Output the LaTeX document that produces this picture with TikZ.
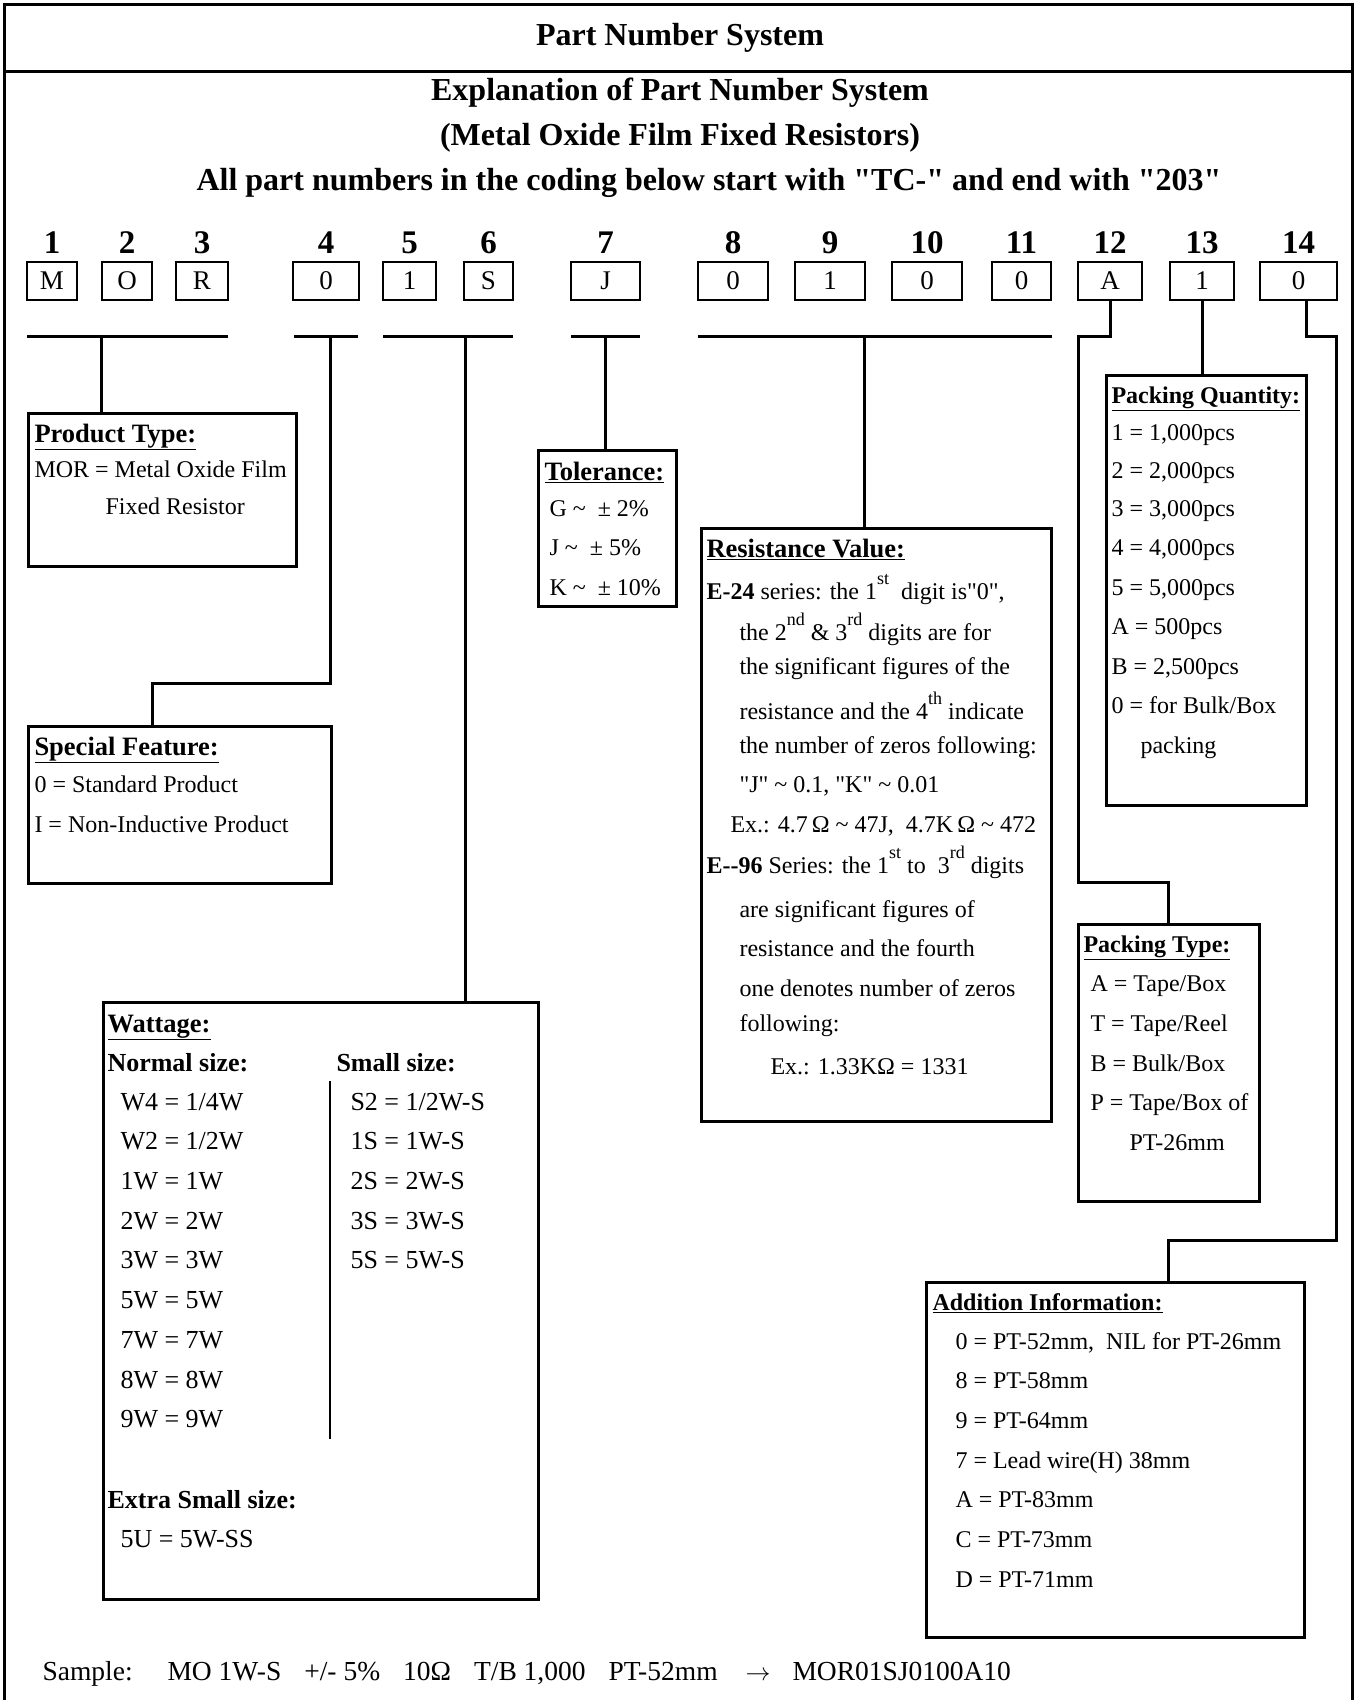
\documentclass[tikz,border=0pt]{standalone}
\usepackage{fontspec}
\setmainfont{Liberation Serif}[Ligatures=TeXOff]
\newcommand\hdrline[1]{\underline{\textbf{#1}}}
\newcommand\supr[1]{\raisebox{0.6em}{\fontsize{18}{20}\selectfont #1}}
\begin{document}
\begin{tikzpicture}[x=1pt,y=-1pt, line width=3pt,
  bx/.style={draw, line width=3pt, inner sep=0, anchor=north west},
  cb/.style={draw, line width=2.5pt, minimum height=38pt, inner sep=0, font=\fontsize{27}{30}\selectfont},
  dg/.style={font=\fontsize{33}{36}\selectfont\bfseries, inner sep=0},
  tl/.style={font=\fontsize{32}{36}\selectfont\bfseries, inner sep=0},
  hd/.style={font=\fontsize{26.5}{30}\selectfont, anchor=base west, inner sep=0, yshift=-9pt},
  hs/.style={font=\fontsize{24}{28}\selectfont, anchor=base west, inner sep=0, yshift=-8pt},
  tx/.style={font=\fontsize{24}{28}\selectfont, anchor=base west, inner sep=0, yshift=-8pt},
  wt/.style={font=\fontsize{26}{30}\selectfont, anchor=base west, inner sep=0, yshift=-8.5pt},
  wb/.style={font=\fontsize{26}{30}\selectfont\bfseries, anchor=base west, inner sep=0, yshift=-8.5pt},
  sm/.style={font=\fontsize{27.5}{30}\selectfont, anchor=base west, inner sep=0, yshift=-9pt},
]
\useasboundingbox (0,0) rectangle (1359,1700);

% frame
\coordinate (fBL) at (4,1700);
\coordinate (fTL) at (4,4);
\coordinate (fTR) at (1352,4);
\coordinate (fBR) at (1352,1700);
\draw (fBL) -- (fTL) -- (fTR) -- (fBR);
\coordinate (hL) at (4,71);
\coordinate (hR) at (1352,71);
\draw (hL) -- (hR);

% titles
\node[tl] (t1) at (680,38) {Part Number System};
\node[tl] (t2) at (680,93) {Explanation of Part Number System};
\node[tl] (t3) at (680,138) {(Metal Oxide Film Fixed Resistors)};
\node[tl] (t4) at (709,183) {All part numbers in the coding below start with "TC-" and end with "203"};

% character boxes and digit numbers
\foreach \n/\x/\w/\c in {1/52/50/M, 2/127/50/O, 3/202/52/R, 4/326/66/0, 5/409.5/53/1, 6/488.5/49/S, 7/605.5/69/J, 8/733/70/0, 9/830/70/1, 10/927/70/0, 11/1021.5/59/0, 12/1110/64/A, 13/1202/64/1, 14/1298.5/77/0}{
  \node[cb, minimum width=\w] (c\n) at (\x,281) {\c};
  \node[dg] (d\n) at (\x,243) {\n};
}

% boxes
\node[bx, minimum width=268, minimum height=153] (pt) at (27,412) {};
\node[bx, minimum width=303, minimum height=157.5] (sf) at (27,724.5) {};
\node[bx, minimum width=435, minimum height=597] (wa) at (102,1001) {};
\node[bx, minimum width=138, minimum height=156] (to) at (537,449) {};
\node[bx, minimum width=350, minimum height=593] (rv) at (700,527) {};
\node[bx, minimum width=200, minimum height=430] (pq) at (1105,374) {};
\node[bx, minimum width=181, minimum height=277] (ptyp) at (1077,923) {};
\node[bx, minimum width=378, minimum height=355] (ad) at (925,1281) {};

% brackets
\coordinate (b13l) at (27,336);  \coordinate (b13r) at (228,336);
\coordinate (b4l) at (294,336);  \coordinate (b4r) at (358,336);
\coordinate (b56l) at (383,336); \coordinate (b56r) at (513,336);
\coordinate (b7l) at (571,336);  \coordinate (b7r) at (640,336);
\coordinate (b811l) at (698,336); \coordinate (b811r) at (1052,336);
\draw (b13l) -- (b13r);
\draw (b4l) -- (b4r);
\draw (b56l) -- (b56r);
\draw (b7l) -- (b7r);
\draw (b811l) -- (b811r);

% stems and connectors
\coordinate (s13) at (101,336);
\draw (s13) -- (s13 |- pt.north);
\coordinate (s4) at (330,336);
\coordinate (k4) at (152,683);
\draw (s4) |- (k4) -- (k4 |- sf.north);
\coordinate (s56) at (465,336);
\draw (s56) -- (s56 |- wa.north);
\coordinate (s7) at (605,336);
\draw (s7) -- (s7 |- to.north);
\coordinate (s811) at (864,336);
\draw (s811) -- (s811 |- rv.north);
\coordinate (k12a) at (1078,336);
\coordinate (k12b) at (1168,882);
\draw (c12.south) |- (k12a) |- (k12b) -- (k12b |- ptyp.north);
\draw (c13.south) -- (c13.south |- pq.north);
\coordinate (s14) at (1306,300);
\coordinate (k14a) at (1336,336);
\coordinate (k14b) at (1168,1240);
\draw (s14) |- (k14a) |- (k14b) -- (k14b |- ad.north);

% Product Type
\node[hd] (pth) at (33,433) {\hdrline{Product Type:}};
\node[tx] (pt1) at (33,469) {MOR = Metal Oxide Film};
\node[tx] (pt2) at (104,506) {Fixed Resistor};

% Special Feature
\node[hd] (sfh) at (33,746) {\hdrline{Special Feature:}};
\node[tx] (sf1) at (33,784) {0 = Standard Product};
\node[tx] (sf2) at (33,824) {I = Non-Inductive Product};

% Tolerance
\node[hd] (toh) at (543,471) {\hdrline{Tolerance:}};
\node[tx] (to1) at (548,508) {G \textasciitilde\ \ ± 2\%};
\node[tx] (to2) at (548,547) {J \textasciitilde\ \ ± 5\%};
\node[tx] (to3) at (548,587) {K \textasciitilde\ \ ± 10\%};

% Resistance Value
\node[hd] (rvh) at (705,548) {\hdrline{Resistance Value:}};
\node[tx] (rv1) at (705,591) {\textbf{E-24} series: the 1\supr{st}\ \ digit is"0",};
\node[tx] (rv2) at (738,632) {the 2\supr{nd}\ \& 3\supr{rd}\ digits are for};
\node[tx] (rv3) at (738,666) {the significant figures of the};
\node[tx] (rv4) at (738,711) {resistance and the 4\supr{th}\ indicate};
\node[tx] (rv5) at (738,745) {the number of zeros following:};
\node[tx] (rv6) at (738,784) {"J" \textasciitilde\ 0.1, "K" \textasciitilde\ 0.01};
\node[tx] (rv7) at (729,824) {Ex.: 4.7\,Ω\ \textasciitilde\ 47J, \ 4.7K\,Ω\ \textasciitilde\ 472};
\node[tx] (rv8) at (705,865) {\textbf{E--96} Series: the 1\supr{st}\ to \ 3\supr{rd}\ digits};
\node[tx] (rv9) at (738,909) {are significant figures of};
\node[tx] (rv10) at (738,948) {resistance and the fourth};
\node[tx] (rv11) at (738,988) {one denotes number of zeros};
\node[tx] (rv12) at (738,1023) {following:};
\node[tx] (rv13) at (769,1066) {Ex.: 1.33KΩ = 1331};

% Packing Quantity
\node[hs] (pqh) at (1110,395) {\hdrline{Packing Quantity:}};
\node[tx] (pq1) at (1110,432) {1 = 1,000pcs};
\node[tx] (pq2) at (1110,470) {2 = 2,000pcs};
\node[tx] (pq3) at (1110,508) {3 = 3,000pcs};
\node[tx] (pq4) at (1110,547) {4 = 4,000pcs};
\node[tx] (pq5) at (1110,587) {5 = 5,000pcs};
\node[tx] (pq6) at (1110,626) {A = 500pcs};
\node[tx] (pq7) at (1110,666) {B = 2,500pcs};
\node[tx] (pq8) at (1110,705) {0 = for Bulk/Box};
\node[tx] (pq9) at (1139,745) {packing};

% Packing Type
\node[hs] (pth2) at (1082,944) {\hdrline{Packing Type:}};
\node[tx] (py1) at (1089,983) {A = Tape/Box};
\node[tx] (py2) at (1089,1023) {T = Tape/Reel};
\node[tx] (py3) at (1089,1063) {B = Bulk/Box};
\node[tx] (py4) at (1089,1102) {P = Tape/Box of};
\node[tx] (py5) at (1128,1142) {PT-26mm};

% Addition Information
\node[hs] (adh) at (931,1302) {\hdrline{Addition Information:}};
\node[tx] (ad1) at (954,1341) {0 = PT-52mm, \ NIL for PT-26mm};
\node[tx] (ad2) at (954,1380) {8 = PT-58mm};
\node[tx] (ad3) at (954,1420) {9 = PT-64mm};
\node[tx] (ad4) at (954,1460) {7 = Lead wire(H) 38mm};
\node[tx] (ad5) at (954,1499) {A = PT-83mm};
\node[tx] (ad6) at (954,1539) {C = PT-73mm};
\node[tx] (ad7) at (954,1579) {D = PT-71mm};

% Wattage
\node[hd] (wah) at (106,1023) {\hdrline{Wattage:}};
\node[wb] (wan) at (106,1063) {Normal size:};
\node[wb] (was) at (335,1063) {Small size:};
\node[wt] (wl1) at (119,1102) {W4 = 1/4W};
\node[wt] (wl2) at (119,1141) {W2 = 1/2W};
\node[wt] (wl3) at (119,1181) {1W = 1W};
\node[wt] (wl4) at (119,1221) {2W = 2W};
\node[wt] (wl5) at (119,1260) {3W = 3W};
\node[wt] (wl6) at (119,1300) {5W = 5W};
\node[wt] (wl7) at (119,1340) {7W = 7W};
\node[wt] (wl8) at (119,1380) {8W = 8W};
\node[wt] (wl9) at (119,1419) {9W = 9W};
\node[wt] (wr1) at (349,1102) {S2 = 1/2W-S};
\node[wt] (wr2) at (349,1141) {1S = 1W-S};
\node[wt] (wr3) at (349,1181) {2S = 2W-S};
\node[wt] (wr4) at (349,1221) {3S = 3W-S};
\node[wt] (wr5) at (349,1260) {5S = 5W-S};
\coordinate (wdt) at (330,1081);
\coordinate (wdb) at (330,1439);
\draw[line width=2.5pt] (wdt) -- (wdb);
\node[wb] (wax) at (106,1500) {Extra Small size:};
\node[wt] (wax1) at (119,1539) {5U = 5W-SS};

% Sample
\node[sm] (sa1) at (41,1671) {Sample:};
\node[sm] (sa2) at (166,1671) {MO 1W-S\hspace{23pt}+/- 5\%\hspace{23pt}10Ω\hspace{23pt}T/B 1,000\hspace{23pt}PT-52mm};
\node[sm] (sa3) at (744,1671) {$\rightarrow$};
\node[sm] (sa4) at (791,1671) {MOR01SJ0100A10};
\end{tikzpicture}
\end{document}
